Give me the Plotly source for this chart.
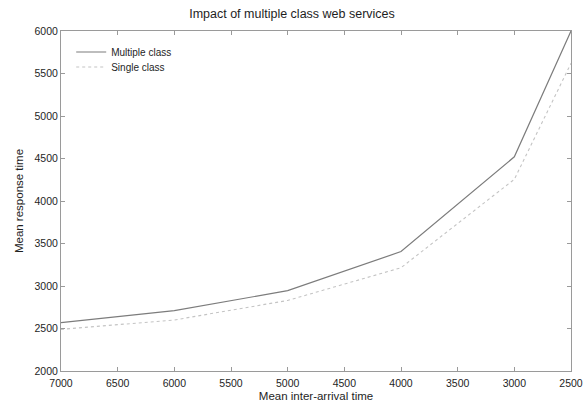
import plotly.graph_objects as go

# Mean inter-arrival time (x) and mean response time for each service class
inter_arrival = [7000, 6000, 5000, 4000, 3000, 2500]
multiple_class = [2570, 2710, 2945, 3405, 4520, 6000]
single_class = [2490, 2600, 2830, 3215, 4255, 5620]

x_ticks = [7000, 6500, 6000, 5500, 5000, 4500, 4000, 3500, 3000, 2500]
y_ticks = [2000, 2500, 3000, 3500, 4000, 4500, 5000, 5500, 6000]

font_family = "Liberation Sans, Arial, sans-serif"
text_color = "#1e1e1e"

fig = go.Figure()
fig.add_trace(go.Scatter(
    x=inter_arrival, y=multiple_class, mode="lines", name="Multiple class",
    line=dict(color="#7c7c7c", width=1.2), legend="legend",
))
fig.add_trace(go.Scatter(
    x=inter_arrival, y=single_class, mode="lines", name="Single class",
    line=dict(color="#c4c4c4", width=1.1, dash="dot"), legend="legend2",
))

axis_common = dict(
    showgrid=False, zeroline=False, showline=True, linecolor="#9a9a9a",
    linewidth=1, mirror="ticks", ticks="inside", ticklen=4, automargin=False,
    tickcolor="#9a9a9a", tickfont=dict(size=10.5, color=text_color, family=font_family),
)

legend_common = dict(
    xanchor="left", yanchor="middle", bgcolor="rgba(0,0,0,0)", borderwidth=0,
    font=dict(size=10, color=text_color, family=font_family), itemwidth=30,
)

fig.update_layout(
    width=584, height=404,
    margin=dict(l=61, r=13, t=31, b=33),
    paper_bgcolor="white", plot_bgcolor="white",
    title=dict(text="Impact of multiple class web services", x=0.5, xanchor="center",
               y=1 - 14 / 404, yanchor="middle",
               font=dict(size=12.5, color=text_color, family=font_family)),
    xaxis=dict(axis_common, range=[7000, 2500], tickvals=x_ticks,
               ticktext=[str(v) for v in x_ticks], ticklabelstandoff=2,
               title=dict(text="Mean inter-arrival time", standoff=4,
                          font=dict(size=11.5, color=text_color, family=font_family))),
    yaxis=dict(axis_common, range=[2000, 6000], tickvals=y_ticks,
               title=dict(text="Mean response time", standoff=8,
                          font=dict(size=11.5, color=text_color, family=font_family))),
    legend=dict(legend_common, x=0.02, y=1 - 21 / 340),
    legend2=dict(legend_common, x=0.02, y=1 - 36 / 340),
    showlegend=True,
)

fig.write_html("out.html")
